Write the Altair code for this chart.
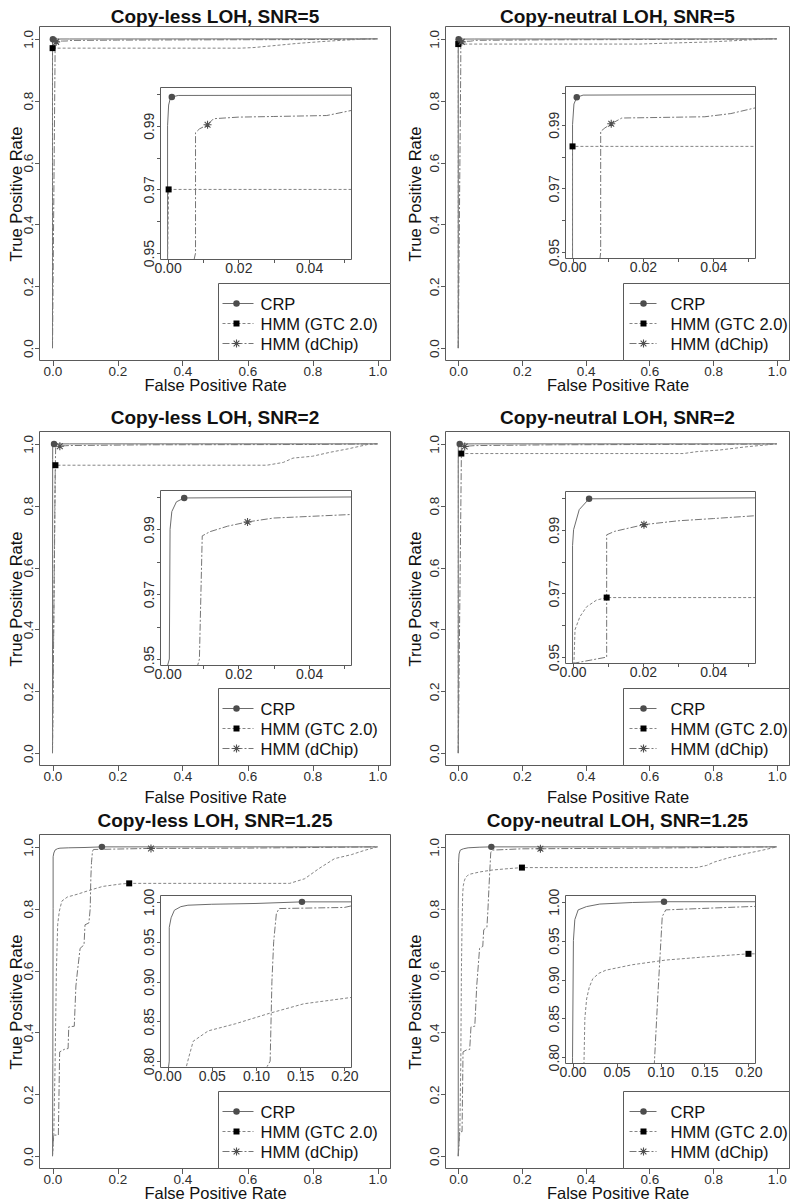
import altair as alt
import pandas as pd

# ---------------------------------------------------------------- data
SERIES = ["CRP", "HMM (GTC 2.0)", "HMM (dChip)"]
TITLES = ["Copy-less LOH, SNR=5", "Copy-neutral LOH, SNR=5",
          "Copy-less LOH, SNR=2", "Copy-neutral LOH, SNR=2",
          "Copy-less LOH, SNR=1.25", "Copy-neutral LOH, SNR=1.25"]
X_TITLE = "False Positive Rate"
Y_TITLE = "True Positive Rate"

MAIN_TICKS = [0.0, 0.2, 0.4, 0.6, 0.8, 1.0]
INSET_X_TICKS_HI = [0.0, 0.01, 0.02, 0.03, 0.04, 0.05]
INSET_Y_TICKS_HI = [0.95, 0.96, 0.97, 0.98, 0.99, 1.0]
INSET_X_TICKS_LO = [0.0, 0.05, 0.1, 0.15, 0.2]
INSET_Y_TICKS_LO = [0.8, 0.85, 0.9, 0.95, 1.0]

# Panel 1: Copy-less LOH, SNR=5
CL5_CRP_FPR = [0, 0, 0.0003, 0.0007, 0.0012, 0.003, 0.052, 0.5, 1.0]
CL5_CRP_TPR = [0, 0.99, 0.9965, 0.9983, 0.999, 0.9995, 0.9996, 0.9998, 1.0]
CL5_GTC_FPR = [0, 0, 0.0003, 0.58, 0.62, 0.67, 0.75, 0.825, 0.9, 0.957, 1.0]
CL5_GTC_TPR = [0, 0.9, 0.97, 0.97, 0.972, 0.977, 0.985, 0.991, 0.996, 0.999, 1.0]
CL5_DCH_FPR = [0, 0.0075, 0.0079, 0.0079, 0.009, 0.0113, 0.013, 0.02, 0.03, 0.045, 0.052, 0.2, 0.5, 0.85, 1.0]
CL5_DCH_TPR = [0, 0.9, 0.95, 0.9878, 0.989, 0.9903, 0.9922, 0.9927, 0.9929, 0.9932, 0.9948, 0.996, 0.997, 0.998, 1.0]
CL5_MARK_FPR = [0.0012, 0.0003, 0.0113]
CL5_MARK_TPR = [0.999, 0.97, 0.9903]

# Panel 2: Copy-neutral LOH, SNR=5
CN5_CRP_FPR = [0, 0, 0.0004, 0.0012, 0.003, 0.052, 0.5, 1.0]
CN5_CRP_TPR = [0, 0.99, 0.9965, 0.9986, 0.9993, 0.9995, 0.9997, 1.0]
CN5_GTC_FPR = [0, 0, 0.0, 0.57, 0.65, 0.79, 0.9, 0.98, 1.0]
CN5_GTC_TPR = [0, 0.9, 0.9832, 0.9832, 0.986, 0.99, 0.996, 1.0, 1.0]
CN5_DCH_FPR = [0, 0.0078, 0.008, 0.008, 0.0092, 0.011, 0.014, 0.0376, 0.045, 0.052, 0.3, 0.9, 1.0]
CN5_DCH_TPR = [0, 0.9, 0.95, 0.9879, 0.989, 0.9903, 0.9921, 0.9925, 0.9935, 0.9953, 0.997, 0.999, 1.0]
CN5_MARK_FPR = [0.0012, 0.0, 0.011]
CN5_MARK_TPR = [0.9986, 0.9832, 0.9903]

# Panel 3: Copy-less LOH, SNR=2
CL2_CRP_FPR = [0, 0.0005, 0.0007, 0.0012, 0.0025, 0.0047, 0.052, 1.0]
CL2_CRP_TPR = [0, 0.95, 0.99, 0.9955, 0.9985, 0.9997, 1.0, 1.0]
CL2_GTC_FPR = [0, 0.008, 0.009, 0.66, 0.71, 0.74, 0.8, 0.855, 0.91, 0.97, 1.0]
CL2_GTC_TPR = [0, 0.9, 0.931, 0.931, 0.94, 0.954, 0.96, 0.973, 0.984, 0.998, 1.0]
CL2_DCH_FPR = [0, 0.0085, 0.009, 0.0098, 0.012, 0.017, 0.0226, 0.03, 0.04, 0.052, 0.3, 0.8, 1.0]
CL2_DCH_TPR = [0, 0.9, 0.95, 0.988, 0.9893, 0.991, 0.9923, 0.9935, 0.994, 0.9946, 0.997, 0.998, 1.0]
CL2_MARK_FPR = [0.0047, 0.009, 0.0226]
CL2_MARK_TPR = [0.9997, 0.931, 0.9923]

# Panel 4: Copy-neutral LOH, SNR=2
CN2_CRP_FPR = [0, 0, 0.0003, 0.0019, 0.0047, 0.052, 1.0]
CN2_CRP_TPR = [0, 0.985, 0.99, 0.9963, 0.9997, 1.0, 1.0]
CN2_GTC_FPR = [0, 0.0004, 0.0007, 0.0021, 0.004, 0.0068, 0.0097, 0.707, 0.75, 0.82, 0.9, 0.95, 1.0]
CN2_GTC_TPR = [0, 0.948, 0.9586, 0.9627, 0.9658, 0.9679, 0.9687, 0.9687, 0.975, 0.98, 0.99, 0.995, 1.0]
CN2_DCH_FPR = [0, 0.0097, 0.0097, 0.012, 0.0203, 0.03, 0.04, 0.052, 0.3, 0.9, 1.0]
CN2_DCH_TPR = [0, 0.95, 0.9884, 0.9895, 0.9916, 0.9928, 0.9935, 0.9944, 0.997, 0.999, 1.0]
CN2_MARK_FPR = [0.0047, 0.0097, 0.0203]
CN2_MARK_TPR = [0.9997, 0.9687, 0.9916]

# Panel 5: Copy-less LOH, SNR=1.25
CL125_CRP_FPR = [0, 0.001, 0.0019, 0.0019, 0.004, 0.0077, 0.015, 0.023, 0.05, 0.1, 0.152, 1.0]
CL125_CRP_TPR = [0, 0.3, 0.8, 0.968, 0.98, 0.9895, 0.994, 0.9958, 0.997, 0.998, 1.0, 1.0]
CL125_GTC_FPR = [0, 0.004, 0.008, 0.012, 0.016, 0.021, 0.024, 0.029, 0.046, 0.077, 0.115, 0.154,
                 0.21, 0.236, 0.73, 0.776, 0.82, 0.868, 0.92, 0.961, 1.0]
CL125_GTC_TPR = [0, 0.07, 0.3, 0.6, 0.75, 0.792, 0.805, 0.825, 0.838, 0.847, 0.86, 0.872,
                 0.88, 0.882, 0.882, 0.897, 0.93, 0.962, 0.975, 0.989, 1.0]
CL125_DCH_FPR = [0, 0.003, 0.018, 0.022, 0.036, 0.048, 0.05, 0.067, 0.072, 0.077, 0.085, 0.097,
                 0.1, 0.112, 0.116, 0.118, 0.12, 0.123, 0.126, 0.2, 0.303, 0.6, 1.0]
CL125_DCH_TPR = [0, 0.068, 0.068, 0.337, 0.345, 0.348, 0.418, 0.42, 0.55, 0.6, 0.672, 0.683,
                 0.748, 0.754, 0.8, 0.9, 0.95, 0.985, 0.9916, 0.993, 0.995, 0.996, 1.0]
CL125_MARK_FPR = [0.152, 0.236, 0.303]
CL125_MARK_TPR = [1.0, 0.882, 0.995]

# Panel 6: Copy-neutral LOH, SNR=1.25
CN125_CRP_FPR = [0, 0, 0.001, 0.0026, 0.0064, 0.0158, 0.031, 0.068, 0.104, 1.0]
CN125_CRP_TPR = [0, 0.8, 0.95, 0.977, 0.9895, 0.9937, 0.997, 0.999, 1.0, 1.0]
CN125_GTC_FPR = [0, 0.005, 0.008, 0.01, 0.012, 0.013, 0.014, 0.016, 0.019, 0.023, 0.03, 0.038,
                 0.068, 0.106, 0.15, 0.2, 0.747, 0.78, 0.804, 0.85, 0.902, 0.954, 1.0]
CN125_GTC_TPR = [0, 0.08, 0.3, 0.6, 0.75, 0.792, 0.85, 0.875, 0.89, 0.901, 0.908, 0.912,
                 0.919, 0.925, 0.929, 0.933, 0.933, 0.94, 0.951, 0.965, 0.978, 0.989, 1.0]
CN125_DCH_FPR = [0, 0.004, 0.012, 0.015, 0.025, 0.036, 0.04, 0.052, 0.058, 0.067, 0.077, 0.08,
                 0.09, 0.093, 0.097, 0.102, 0.106, 0.2, 0.258, 0.6, 1.0]
CN125_DCH_TPR = [0, 0.079, 0.079, 0.337, 0.343, 0.345, 0.418, 0.42, 0.55, 0.672, 0.678, 0.732,
                 0.74, 0.792, 0.88, 0.981, 0.9895, 0.9937, 0.994, 0.996, 1.0]
CN125_MARK_FPR = [0.104, 0.2, 0.258]
CN125_MARK_TPR = [1.0, 0.933, 0.994]

# ---------------------------------------------------------------- style / layout
FONT = "Liberation Sans"
CW, CH = 782, 1192
FRAME_C = "#5a5a5a"
TEXT_C = "#111111"
LABEL_C = "#2e2e2e"
ASTERISK = "M-1,0L1,0M0,-1L0,1M-0.72,-0.72L0.72,0.72M-0.72,0.72L0.72,-0.72"

STYLE = {
    "CRP": dict(color="#6c6c6c", dash=None, shape="circle", mcolor="#4d4d4d", filled=True, size=42),
    "HMM (GTC 2.0)": dict(color="#858585", dash=[3, 2], shape="square", mcolor="#000000", filled=True, size=36),
    "HMM (dChip)": dict(color="#767676", dash=[7, 2, 2, 2], shape=ASTERISK, mcolor="#505050", filled=False, size=64),
}

LEFT = dict(x0=31.5, x1=382.5, ix=(121, 312), lg_left=179, lg_line=(4, 35), lg_mark=18, lg_text=42, ytdx=-18.5)
RIGHT = dict(x0=437.5, x1=781.5, ix=(120, 310), lg_left=178, lg_line=(6, 33), lg_mark=20, lg_text=47, ytdx=-25.5)

PANELS = [
    dict(col=LEFT, y0=18.5, y1=352.5, iy=(61, 233), title_y=15, xtdy=30, hi=True,
         curves=[(CL5_CRP_FPR, CL5_CRP_TPR), (CL5_GTC_FPR, CL5_GTC_TPR), (CL5_DCH_FPR, CL5_DCH_TPR)],
         marks=(CL5_MARK_FPR, CL5_MARK_TPR)),
    dict(col=RIGHT, y0=18.5, y1=352.5, iy=(60, 232), title_y=15, xtdy=30, hi=True,
         curves=[(CN5_CRP_FPR, CN5_CRP_TPR), (CN5_GTC_FPR, CN5_GTC_TPR), (CN5_DCH_FPR, CN5_DCH_TPR)],
         marks=(CN5_MARK_FPR, CN5_MARK_TPR)),
    dict(col=LEFT, y0=423.5, y1=757.5, iy=(59, 234), title_y=416, xtdy=37, hi=True,
         curves=[(CL2_CRP_FPR, CL2_CRP_TPR), (CL2_GTC_FPR, CL2_GTC_TPR), (CL2_DCH_FPR, CL2_DCH_TPR)],
         marks=(CL2_MARK_FPR, CL2_MARK_TPR)),
    dict(col=RIGHT, y0=423.5, y1=757.5, iy=(60, 232), title_y=416, xtdy=37, hi=True,
         curves=[(CN2_CRP_FPR, CN2_CRP_TPR), (CN2_GTC_FPR, CN2_GTC_TPR), (CN2_DCH_FPR, CN2_DCH_TPR)],
         marks=(CN2_MARK_FPR, CN2_MARK_TPR)),
    dict(col=LEFT, y0=826.5, y1=1160.5, iy=(61, 233), title_y=819, xtdy=29.5, hi=False,
         curves=[(CL125_CRP_FPR, CL125_CRP_TPR), (CL125_GTC_FPR, CL125_GTC_TPR), (CL125_DCH_FPR, CL125_DCH_TPR)],
         marks=(CL125_MARK_FPR, CL125_MARK_TPR)),
    dict(col=RIGHT, y0=826.5, y1=1160.5, iy=(61, 229), title_y=819, xtdy=29.5, hi=False,
         curves=[(CN125_CRP_FPR, CN125_CRP_TPR), (CN125_GTC_FPR, CN125_GTC_TPR), (CN125_DCH_FPR, CN125_DCH_TPR)],
         marks=(CN125_MARK_FPR, CN125_MARK_TPR)),
]


def curve_df(fpr, tpr):
    return pd.DataFrame({"x": fpr, "y": tpr, "i": list(range(len(fpr)))})


def line_layer(df, st, X, Y):
    kw = dict(color=st["color"], strokeWidth=1)
    if st["dash"]:
        kw["strokeDash"] = st["dash"]
    return alt.Chart(df).mark_line(**kw).encode(x=X, y=Y, order=alt.Order("i:Q"))


def marker_layer(df, st, X, Y, filt=None):
    ch = alt.Chart(df)
    if filt:
        ch = ch.transform_filter(filt)
    kw = dict(shape=st["shape"], filled=st["filled"], size=st["size"], color=st["mcolor"], opacity=1)
    if not st["filled"]:
        kw["strokeWidth"] = 1.1
    return ch.mark_point(**kw).encode(x=X, y=Y)


def frame_layer(xd, yd, X, Y, fill=None, stroke=True):
    df = pd.DataFrame({"x": [xd[0]], "x2": [xd[1]], "y": [yd[0]], "y2": [yd[1]]})
    kw = {}
    if stroke:
        kw.update(stroke=FRAME_C, strokeWidth=1)
    else:
        kw.update(strokeWidth=0)
    if fill:
        kw["fill"] = fill
    else:
        kw["fillOpacity"] = 0
    return alt.Chart(df).mark_rect(**kw).encode(x=X, x2="x2:Q", y=Y, y2="y2:Q")


def main_group(p, title):
    c = p["col"]
    x0, x1, y0, y1 = c["x0"], c["x1"], p["y0"], p["y1"]
    dom = [-0.04, 1.04]
    xs = alt.Scale(domain=dom, range=[x0, x1], nice=False, zero=False)
    ys = alt.Scale(domain=dom, range=[y1, y0], nice=False, zero=False)
    X = alt.X("x:Q", scale=xs, axis=alt.Axis(
        orient="bottom", offset=y1 - CH, values=MAIN_TICKS, format=".1f", domain=False, grid=False,
        tickSize=5, tickColor=FRAME_C, tickWidth=1, labelFont=FONT, labelFontSize=13.5, labelColor=LABEL_C,
        labelPadding=-1, labelOverlap=False, labelFlush=False, title=X_TITLE, titleFont=FONT,
        titleFontSize=16.5, titleFontWeight="normal", titleColor=TEXT_C, titleX=(x0 + x1) / 2,
        titleY=p["xtdy"], titleBaseline="alphabetic", titleAlign="center", titleAngle=0))
    Y = alt.Y("y:Q", scale=ys, axis=alt.Axis(
        orient="left", offset=-x0, values=MAIN_TICKS, format=".1f", domain=False, grid=False,
        tickSize=5, tickColor=FRAME_C, tickWidth=1, labelFont=FONT, labelFontSize=13.5, labelColor=LABEL_C,
        labelAngle=270, labelAlign="center", labelBaseline="alphabetic", labelPadding=2,
        labelOverlap=False, labelFlush=False, title=Y_TITLE, titleFont=FONT, titleFontSize=16.5,
        titleFontWeight="normal", titleColor=TEXT_C, titleAngle=270, titleX=c["ytdx"],
        titleY=(y0 + y1) / 2, titleBaseline="alphabetic", titleAlign="center"))
    layers = []
    for s, (f, t) in zip(SERIES, p["curves"]):
        layers.append(line_layer(curve_df(f, t), STYLE[s], X, Y))
    mf, mt = p["marks"]
    for k, s in enumerate(SERIES):
        layers.append(marker_layer(pd.DataFrame({"x": [mf[k]], "y": [mt[k]]}), STYLE[s], X, Y))
    layers.append(frame_layer(dom, dom, X, Y))
    tdf = pd.DataFrame({"x": [0.5], "t": [title]})
    layers.append(alt.Chart(tdf).mark_text(font=FONT, fontSize=19, fontWeight="bold", color=TEXT_C,
                                           align="center", baseline="alphabetic")
                  .encode(x=X, y=alt.value(p["title_y"]), text="t:N"))
    return alt.layer(*layers)


def inset_group(p):
    c = p["col"]
    ix0, ix1 = c["x0"] + c["ix"][0], c["x0"] + c["ix"][1]
    iy0, iy1 = p["y0"] + p["iy"][0], p["y0"] + p["iy"][1]
    if p["hi"]:
        xd, yd = [-0.002, 0.052], [0.948, 1.002]
        xt, yt = INSET_X_TICKS_HI, INSET_Y_TICKS_HI
        xexpr = "round(datum.value*100) % 2 == 0 ? datum.label : ''"
        yexpr = "round(datum.value*100) % 2 == 1 ? datum.label : ''"
    else:
        xd, yd = [-0.008, 0.208], [0.792, 1.008]
        xt, yt = INSET_X_TICKS_LO, INSET_Y_TICKS_LO
        xexpr = "datum.label"
        yexpr = "datum.label"
    xs = alt.Scale(domain=xd, range=[ix0, ix1], nice=False, zero=False, clamp=True)
    ys = alt.Scale(domain=yd, range=[iy1, iy0], nice=False, zero=False, clamp=True)
    X = alt.X("x:Q", scale=xs, axis=alt.Axis(
        orient="bottom", offset=iy1 - CH, values=xt, format=".2f", labelExpr=xexpr, domain=False,
        grid=False, tickSize=3, tickColor=FRAME_C, tickWidth=1, labelFont=FONT, labelFontSize=14,
        labelColor=LABEL_C, labelPadding=-1, labelOverlap=False, labelFlush=False, title=""))
    Y = alt.Y("y:Q", scale=ys, axis=alt.Axis(
        orient="left", offset=-ix0, values=yt, format=".2f", labelExpr=yexpr, domain=False,
        grid=False, tickSize=4, tickColor=FRAME_C, tickWidth=1, labelFont=FONT, labelFontSize=14,
        labelColor=LABEL_C, labelAngle=270, labelAlign="center", labelBaseline="alphabetic",
        labelPadding=3, labelOverlap=False, labelFlush=False, title=""))
    layers = [frame_layer(xd, yd, X, Y, fill="white", stroke=False)]
    for s, (f, t) in zip(SERIES, p["curves"]):
        layers.append(line_layer(curve_df(f, t), STYLE[s], X, Y))
    mf, mt = p["marks"]
    filt = (f"datum.x >= {xd[0]} && datum.x <= {xd[1]} && "
            f"datum.y >= {yd[0]} && datum.y <= {yd[1]}")
    for k, s in enumerate(SERIES):
        layers.append(marker_layer(pd.DataFrame({"x": [mf[k]], "y": [mt[k]]}), STYLE[s], X, Y, filt))
    layers.append(frame_layer(xd, yd, X, Y))
    return alt.layer(*layers)


def legend_group(p):
    c = p["col"]
    lx0, lx1 = c["x0"] + c["lg_left"], c["x1"]
    ly0, ly1 = p["y0"] + 257, p["y1"]
    bw, bh = lx1 - lx0, ly1 - ly0
    xs = alt.Scale(domain=[0, bw], range=[lx0, lx1], nice=False, zero=False)
    ys = alt.Scale(domain=[0, bh], range=[ly0, ly1], nice=False, zero=False)
    X = alt.X("x:Q", scale=xs, axis=None)
    Y = alt.Y("y:Q", scale=ys, axis=None)
    layers = [frame_layer([0, bw], [0, bh], X, Y, fill="white")]
    for k, s in enumerate(SERIES):
        st = STYLE[s]
        row = 20 + 20 * k
        rdf = pd.DataFrame({"x": [c["lg_line"][0]], "x2": [c["lg_line"][1]], "y": [row]})
        kw = dict(color=st["color"], strokeWidth=1)
        if st["dash"]:
            kw["strokeDash"] = st["dash"]
        layers.append(alt.Chart(rdf).mark_rule(**kw).encode(x=X, x2="x2:Q", y=Y))
        layers.append(marker_layer(pd.DataFrame({"x": [c["lg_mark"]], "y": [row]}), st, X, Y))
        tdf = pd.DataFrame({"x": [c["lg_text"]], "y": [row], "t": [s]})
        layers.append(alt.Chart(tdf).mark_text(font=FONT, fontSize=16.5, color=TEXT_C, align="left",
                                               baseline="middle", dy=1)
                      .encode(x=X, y=Y, text="t:N"))
    return alt.layer(*layers)


groups = []
for p, title in zip(PANELS, TITLES):
    groups.append(main_group(p, title))
    groups.append(inset_group(p))
    groups.append(legend_group(p))

chart = (
    alt.layer(*groups)
    .resolve_scale(x="independent", y="independent")
    .properties(width=CW, height=CH, padding=0, autosize=alt.AutoSizeParams(type="none"),
                background="white")
    .configure_view(strokeWidth=0)
)

chart.save("out.html", embed_options={"renderer": "svg", "actions": False})
